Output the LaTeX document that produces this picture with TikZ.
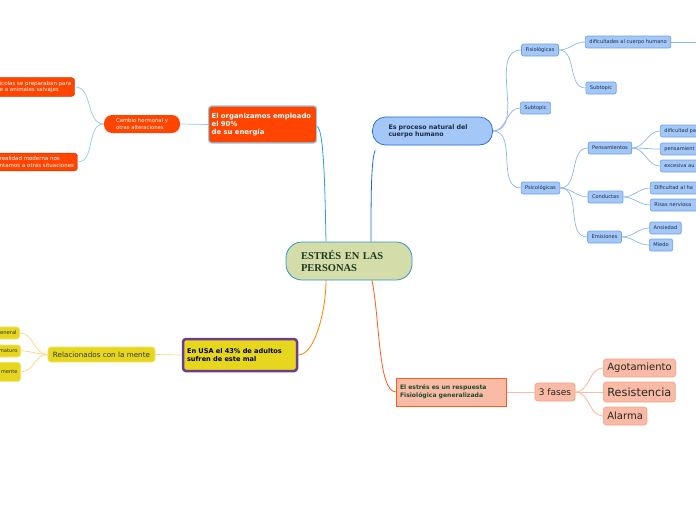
\documentclass[tikz,border=0pt]{standalone}
\usepackage{fontspec}
\setmainfont{DejaVu Sans}
\newfontfamily\titlefont{Liberation Serif}
\usepackage{xcolor}
\usetikzlibrary{positioning}

\definecolor{rootfill}{HTML}{D4DDA9}
\definecolor{rootline}{HTML}{3196C9}
\definecolor{roottext}{HTML}{1E3A1E}
\definecolor{redorange}{HTML}{FF4500}
\definecolor{skyline}{HTML}{8CCDEE}
\definecolor{bluefill}{HTML}{A3C7F6}
\definecolor{blueedge}{HTML}{6FA2EA}
\definecolor{bluedark}{HTML}{1F6AD6}
\definecolor{bluetext}{HTML}{1F2A44}
\definecolor{yellowfill}{HTML}{E6D71E}
\definecolor{yellowedge}{HTML}{F2E56A}
\definecolor{purpleedge}{HTML}{6A3C8C}
\definecolor{yellowline}{HTML}{FFD585}
\definecolor{salmonfill}{HTML}{F9BBA6}
\definecolor{salmonedge}{HTML}{F6A189}
\definecolor{salmondark}{HTML}{FF5A1F}
\definecolor{greentext}{HTML}{1B4D2E}

\begin{document}
\begin{tikzpicture}[x=1pt, y=-1pt,
  central/.style={draw=rootline, line width=0.8pt, fill=rootfill, rounded corners=16pt, text=roottext, align=left, text width=96pt, inner xsep=15pt, minimum height=38pt, font=\titlefont\bfseries\fontsize{10.5}{11.5}\selectfont},
  mainorange/.style={draw=skyline, line width=1.2pt, fill=redorange, rounded corners=3pt, text=white, align=left, text width=102pt, inner sep=3pt, minimum height=37pt, font=\bfseries\fontsize{6.9}{8}\selectfont},
  orangetopic/.style={draw=redorange!80!black, fill=redorange, rounded corners=3pt, text=white, align=left, inner sep=3.5pt, font=\fontsize{5.5}{6.4}\selectfont},
  orangepill/.style={fill=redorange, rounded corners=8pt, text=white, align=left, inner xsep=12pt, inner ysep=2pt, minimum height=18pt, font=\fontsize{5.3}{6.6}\selectfont},
  mainblue/.style={draw=bluedark, line width=0.7pt, fill=bluefill, rounded corners=13pt, text=bluetext, align=left, inner xsep=16pt, minimum height=28pt, text width=88pt, font=\bfseries\fontsize{6.3}{7.4}\selectfont},
  bluetopic/.style={draw=blueedge, line width=0.7pt, fill=bluefill, rounded corners=2pt, text=bluetext, inner xsep=4pt, inner ysep=0pt, minimum height=12pt, font=\fontsize{5.1}{6}\selectfont},
  blueclip/.style={bluetopic, anchor=west, align=left, text width=60pt},
  mainyellow/.style={draw=purpleedge, line width=2.5pt, fill=yellowfill, rounded corners=3pt, text=black, align=left, text width=106pt, inner sep=4pt, minimum height=32pt, font=\bfseries\fontsize{6.6}{8}\selectfont},
  yellowtopic/.style={draw=yellowedge, line width=0.7pt, fill=yellowfill, rounded corners=3pt, text=black!80, inner xsep=5pt, inner ysep=0pt, minimum height=15pt, font=\fontsize{7.2}{8}\selectfont},
  yellowsmall/.style={draw=yellowedge, line width=0.7pt, fill=yellowfill, rounded corners=3pt, text=black!80, inner xsep=3pt, inner ysep=0pt, minimum height=12pt, font=\fontsize{5.2}{6}\selectfont},
  mainsalmon/.style={draw=salmondark, line width=1pt, fill=salmonfill, text=greentext, align=left, text width=103pt, inner sep=3.5pt, minimum height=28pt, font=\bfseries\fontsize{6.1}{7.6}\selectfont},
  salmontopic/.style={draw=salmonedge, line width=0.7pt, fill=salmonfill, rounded corners=3pt, text=black!85, inner xsep=4pt, inner ysep=0pt, minimum height=18pt},
  conn sky/.style={draw=skyline, line width=0.7pt},
  conn blue/.style={draw=blueedge!80, line width=0.7pt},
  conn yellow/.style={draw=yellowline, line width=0.7pt},
  conn salmon/.style={draw=salmonfill, line width=0.9pt}]

\useasboundingbox (0,0) rectangle (696,520);
\clip (0,0) rectangle (696,520);

% central topic
\node[central] (root) at (349,261) {ESTRÉS EN LAS\\PERSONAS};

% top left branch
\node[mainorange, anchor=west] (energia) at (208,124.5) {El organizamos empleado\\el 90\%\\de su energía};
\node[orangepill] (cambio) at (142,124) {Cambio hormonal y\\otras alteraciones};
\node[orangetopic, anchor=west] (ancestros) at (-4,87) {icolas se preparaban para\\e a animales salvajes};
\node[orangetopic, anchor=west] (moderna) at (-4,162) {realidad moderna nos\\ntamos a otras situaciones};

% top right branch
\node[mainblue] (proceso) at (432.5,131) {Es proceso natural del\\cuerpo humano};
\node[bluetopic] (fisio) at (540,50) {Fisiológicas};
\node[bluetopic] (subtop) at (535.5,108) {Subtopic};
\node[bluetopic] (psico) at (540.5,188) {Psicológicas};
\node[bluetopic, anchor=west] (dificcuerpo) at (585,42) {dificultades al cuerpo humano};
\coordinate (dificmas) at (700,42);
\node[bluetopic] (subtopdos) at (601,88) {Subtopic};
\node[bluetopic] (pensam) at (610,148) {Pensamientos};
\node[bluetopic] (conduct) at (605.5,197) {Conductas};
\node[bluetopic] (emision) at (604.5,237) {Emisiones};
\node[blueclip] (dificpa) at (660,131) {dificultad pa};
\node[blueclip] (pensamto) at (660,149) {pensamient};
\node[blueclip] (excesiva) at (660,166) {excesiva au};
\node[blueclip] (dificha) at (650,188) {Dificultad al ha};
\node[blueclip] (risas) at (650,205) {Risas nerviosa};
\node[bluetopic] (ansiedad) at (665.5,228) {Ansiedad};
\node[bluetopic] (miedo) at (661,245) {Miedo};

% bottom left branch
\node[mainyellow] (usa) at (240,355) {En USA el 43\% de adultos\\sufren de este mal};
\node[yellowtopic] (mente) at (101.5,354.5) {Relacionados con la mente};
\node[yellowsmall, anchor=east] (general) at (20,333) {eneral};
\node[yellowsmall, anchor=east] (maturo) at (21,351) {maturo};
\node[yellowsmall, anchor=north east, minimum height=19pt, align=left, inner ysep=2pt] (menteb) at (21,362) {mente};

% bottom right branch
\node[mainsalmon] (respuesta) at (451.5,392) {El estrés es un respuesta\\Fisiológica generalizada};
\node[salmontopic, font=\fontsize{9}{10}\selectfont] (fases) at (555,392) {3 fases};
\node[salmontopic, anchor=west, font=\fontsize{10}{11}\selectfont] (agot) at (603,368) {Agotamiento};
\node[salmontopic, anchor=west, minimum height=20pt, font=\fontsize{11.3}{12}\selectfont] (resist) at (603,392) {Resistencia};
\node[salmontopic, anchor=west, font=\fontsize{10}{11}\selectfont] (alarma) at (603,416) {Alarma};

% connectors
\draw[draw=rootline!90!cyan, line width=0.8pt] ([xshift=-23pt]root.north) .. controls (325,190) and (324,130) .. ([yshift=-2pt]energia.east);
\draw[draw=bluedark, line width=0.8pt] ([xshift=22pt]root.north) .. controls (371,200) and (371,160) .. ([xshift=3pt,yshift=-5pt]proceso.south west);
\draw[draw=orange, line width=0.8pt] ([xshift=-23pt]root.south) .. controls (326,310) and (315,355) .. (usa.east);
\draw[draw=salmondark, line width=0.8pt] ([xshift=23pt]root.south) .. controls (380,320) and (378,392) .. (respuesta.west);

\draw[conn sky] (energia.west) -- (cambio.east);
\draw[conn sky] (cambio.west) to[out=180, in=0] (ancestros.east);
\draw[conn sky] (cambio.west) to[out=180, in=0] (moderna.east);

\draw[conn blue] (proceso.east) to[out=0, in=180] (fisio.west);
\draw[conn blue] (proceso.east) to[out=0, in=180] (subtop.west);
\draw[conn blue] (proceso.east) to[out=0, in=180] (psico.west);
\draw[conn blue] (fisio.east) to[out=0, in=180] (dificcuerpo.west);
\draw[conn blue] (fisio.east) to[out=0, in=180] (subtopdos.west);
\draw[conn blue] (dificcuerpo.east) -- (dificmas);
\draw[conn blue] (psico.east) to[out=0, in=180] (pensam.west);
\draw[conn blue] (psico.east) to[out=0, in=180] (conduct.west);
\draw[conn blue] (psico.east) to[out=0, in=180] (emision.west);
\draw[conn blue] (pensam.east) to[out=0, in=180] (dificpa.west);
\draw[conn blue] (pensam.east) to[out=0, in=180] (pensamto.west);
\draw[conn blue] (pensam.east) to[out=0, in=180] (excesiva.west);
\draw[conn blue] (conduct.east) to[out=0, in=180] (dificha.west);
\draw[conn blue] (conduct.east) to[out=0, in=180] (risas.west);
\draw[conn blue] (emision.east) to[out=0, in=180] (ansiedad.west);
\draw[conn blue] (emision.east) to[out=0, in=180] (miedo.west);

\draw[conn yellow] (usa.west) -- (mente.east);
\draw[conn yellow] (mente.west) to[out=180, in=0] (general.east);
\draw[conn yellow] (mente.west) to[out=180, in=0] (maturo.east);
\draw[conn yellow] (mente.west) to[out=180, in=0] (menteb.east);

\draw[conn salmon] (respuesta.east) -- (fases.west);
\draw[conn salmon] (fases.east) to[out=0, in=180] (agot.west);
\draw[conn salmon] (fases.east) -- (resist.west);
\draw[conn salmon] (fases.east) to[out=0, in=180] (alarma.west);
\end{tikzpicture}
\end{document}
